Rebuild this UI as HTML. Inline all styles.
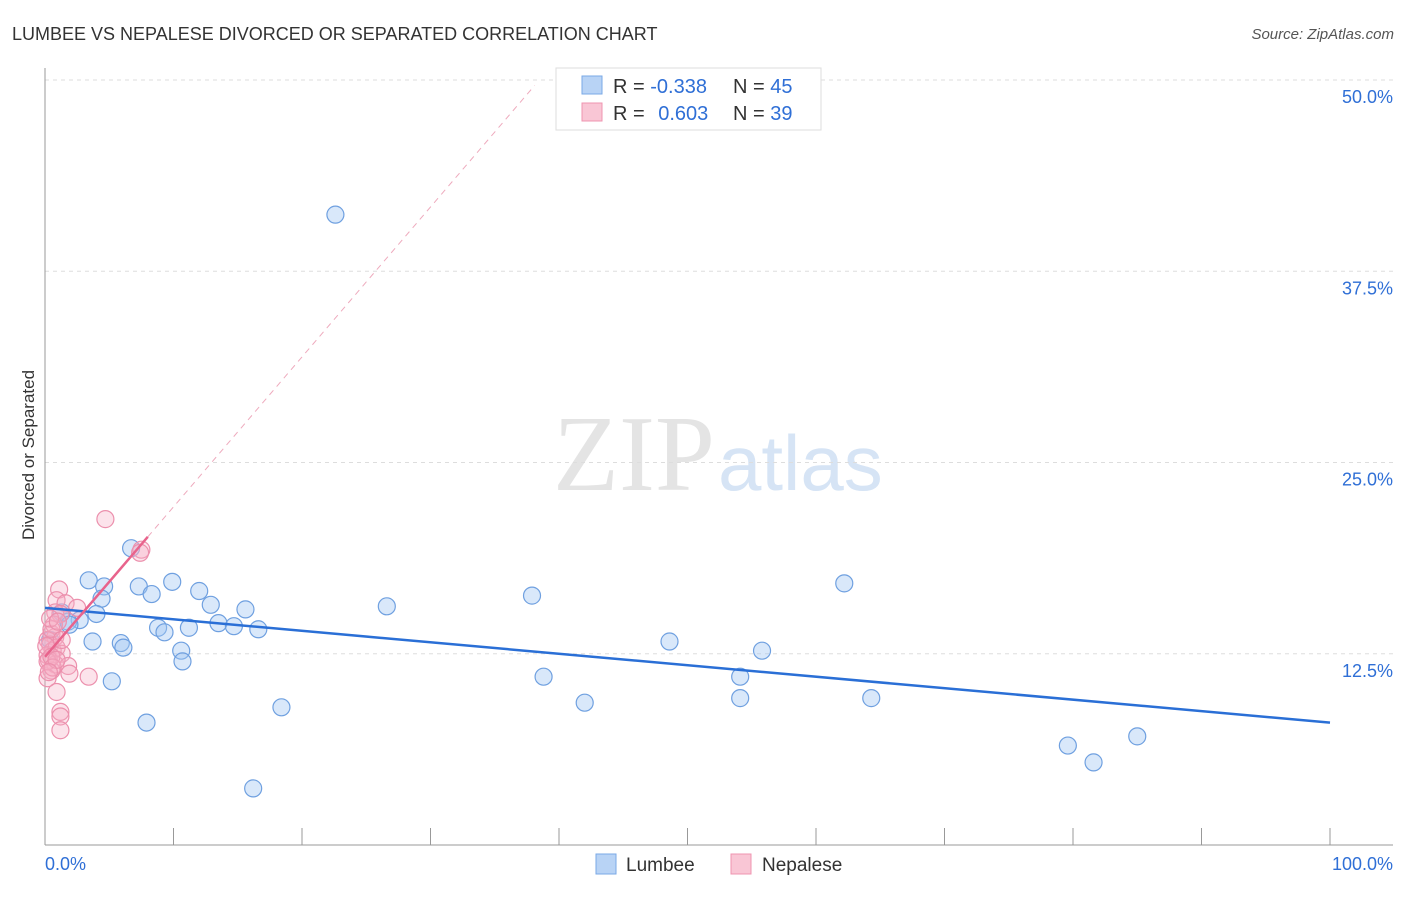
<!DOCTYPE html>
<html><head><meta charset="utf-8"><style>
body{margin:0;background:#fff;font-family:"Liberation Sans",sans-serif}
svg text{font-family:"Liberation Sans",sans-serif}
</style></head><body>
<svg id="chart" width="1406" height="892">
<text x="12" y="40" font-size="18" fill="#333">LUMBEE VS NEPALESE DIVORCED OR SEPARATED CORRELATION CHART</text>
<text x="1394" y="39" font-size="15" fill="#555" font-style="italic" text-anchor="end">Source: ZipAtlas.com</text>
<text x="553" y="490" font-size="108" fill="#e4e4e4" style="font-family:'Liberation Serif',serif">ZIP</text>
<text x="718" y="490" font-size="78" fill="#d6e4f5">atlas</text>
<text transform="translate(34,455) rotate(-90)" font-size="17" fill="#333" text-anchor="middle">Divorced or Separated</text>
<g id="grid"></g><g id="axes"></g><g id="marks"></g>
<g>
<rect x="556" y="68" width="265" height="62" fill="#fff" stroke="#ddd"/>
<rect x="582" y="76" width="20" height="18" fill="#b8d3f5" stroke="#7aa8e6"/>
<rect x="582" y="103" width="20" height="18" fill="#f9c6d5" stroke="#ef94b0"/>
<text x="613" y="93" font-size="20" fill="#333">R = <tspan fill="#2f6fd6">-0.338</tspan></text>
<text x="733" y="93" font-size="20" fill="#333">N = <tspan fill="#2f6fd6">45</tspan></text>
<text x="613" y="120" font-size="20" fill="#333">R = <tspan fill="#2f6fd6" dx="8">0.603</tspan></text>
<text x="733" y="120" font-size="20" fill="#333">N = <tspan fill="#2f6fd6">39</tspan></text>
</g>
<g>
<rect x="596" y="854" width="20" height="20" fill="#b8d3f5" stroke="#7aa8e6"/>
<text x="626" y="871" font-size="19" fill="#333">Lumbee</text>
<rect x="731" y="854" width="20" height="20" fill="#f9c6d5" stroke="#ef94b0"/>
<text x="762" y="871" font-size="19" fill="#333">Nepalese</text>
</g>
</svg>
<script>
const yTicks=[12.5,25,37.5,50];
const yTickLabels=["12.5%","25.0%","37.5%","50.0%"];
const xTickLabels=["0.0%","100.0%"];
const lumbeeX=[22.6,6.7,3.4,4.6,7.3,9.9,12.0,8.3,4.4,12.9,15.6,26.6,37.9,62.2,4.0,2.7,1.8,8.8,9.3,11.2,13.5,14.7,16.6,3.7,5.9,6.1,10.6,10.7,5.2,7.9,18.4,16.2,48.6,55.8,38.8,54.1,42.0,54.1,64.3,79.6,81.6,85.0,1.3,1.9,0.4];
const lumbeeY=[41.2,19.4,17.3,16.9,16.9,17.2,16.6,16.4,16.1,15.7,15.4,15.6,16.3,17.1,15.1,14.7,14.6,14.2,13.9,14.2,14.5,14.3,14.1,13.3,13.2,12.9,12.7,12.0,10.7,8.0,9.0,3.7,13.3,12.7,11.0,11.0,9.3,9.6,9.6,6.5,5.4,7.1,15.2,14.4,13.4];
const nepX=[4.7,7.5,7.4,1.1,0.9,1.6,2.5,0.8,1.2,0.5,0.8,0.2,0.4,0.6,0.2,0.9,1.3,0.3,0.8,1.8,1.9,3.4,0.5,0.2,0.9,1.2,1.2,1.2,0.7,0.5,0.4,1.0,0.1,0.2,0.5,0.6,1.3,0.9,0.3];
const nepY=[21.3,19.3,19.1,16.7,16.0,15.8,15.5,15.2,15.1,13.8,13.6,13.4,13.1,12.7,12.4,12.9,12.5,12.1,11.8,11.7,11.2,11.0,11.4,10.9,10.0,8.7,8.4,7.5,14.4,14.1,14.8,14.6,13.0,12.0,12.3,11.6,13.4,12.1,11.3];
const lumbeeTrend=[15.5,8.0];
const nepTrend=[12.3,0.98];
const X=v=>45+v*12.85, Y=v=>845-v*15.3;
const NS="http://www.w3.org/2000/svg";
function mk(t,a,p){const e=document.createElementNS(NS,t);for(const k in a)e.setAttribute(k,a[k]);p.appendChild(e);return e;}
const grid=document.getElementById('grid'),axes=document.getElementById('axes'),marks=document.getElementById('marks');
yTicks.forEach((t,i)=>{
 const l=mk('line',{x1:45,x2:1393,y1:Y(t),y2:Y(t),stroke:'#ddd','stroke-dasharray':'4,4'},grid);
 
 
 const tx=mk('text',{x:1393,y:Y(t)+23,'font-size':18,fill:'#2f6fd6','text-anchor':'end'},axes);
 tx.textContent=yTickLabels[i];
 
 
});
const la=mk('line',{x1:45,x2:45,y1:68,y2:845,stroke:'#999'},axes);


const ba=mk('line',{x1:45,x2:1393,y1:845,y2:845,stroke:'#999'},axes);


for(let i=0;i<=10;i++){
 const t=mk('line',{x1:X(i*10),x2:X(i*10),y1:828,y2:845,stroke:'#999'},axes);
 
 
}
[[0,'start',45],[100,'end',1393]].forEach((d,i)=>{
 const t=mk('text',{x:d[2],y:870,'font-size':18,fill:'#2f6fd6','text-anchor':d[1]},axes);
 t.textContent=xTickLabels[i];
 
 
});
lumbeeX.forEach((x,i)=>{
 const c=mk('circle',{cx:X(x),cy:Y(lumbeeY[i]),r:8.5,fill:'rgba(160,198,242,0.4)',stroke:'#6fa0e0','stroke-width':1.2},marks);
 
 
});
nepX.forEach((x,i)=>{
 const c=mk('circle',{cx:X(x),cy:Y(nepY[i]),r:8.5,fill:'rgba(245,175,198,0.35)',stroke:'#ec90ad','stroke-width':1.2},marks);
 
 
});
const lt=mk('line',{x1:X(0),y1:Y(lumbeeTrend[0]),x2:X(100),y2:Y(lumbeeTrend[1]),stroke:'#2a6fd6','stroke-width':2.5},marks);


const xe=38.1;
const nd=mk('line',{x1:X(8),y1:Y(nepTrend[0]+8*nepTrend[1]),x2:X(xe),y2:Y(nepTrend[0]+xe*nepTrend[1]),stroke:'#eeaabd','stroke-width':1,'stroke-dasharray':'6,5'},marks);


const nt=mk('line',{x1:X(0),y1:Y(nepTrend[0]),x2:X(8),y2:Y(nepTrend[0]+8*nepTrend[1]),stroke:'#e8638c','stroke-width':2.5},marks);


</script>
</body></html>
